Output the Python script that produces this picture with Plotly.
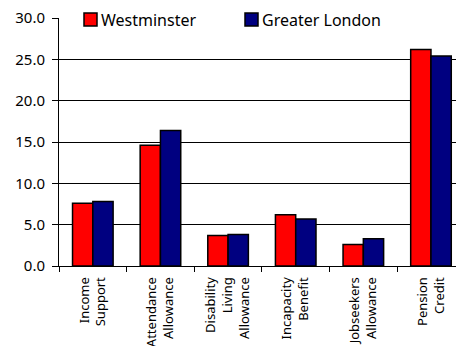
import plotly.graph_objects as go

categories = ["Income<br>Support", "Attendance<br>Allowance", "Disability<br>Living<br>Allowance",
              "Incapacity<br>Benefit", "Jobseekers<br>Allowance", "Pension<br>Credit"]
westminster = [7.6, 14.6, 3.7, 6.2, 2.6, 26.2]
greater_london = [7.8, 16.4, 3.8, 5.7, 3.3, 25.4]
series_names = ["Westminster", "Greater London"]
series_colors = ["#ff0000", "#000080"]

FONT = "Noto Sans"
W, H = 456, 346
L, R, T, B = 59, 0, 18, 80
PW, PH = W - L - R, H - T - B


def px_x(x):
    return (x - L) / PW


def px_y(y):
    return (H - B - y) / PH


fig = go.Figure()
for name, vals, col in zip(series_names, [westminster, greater_london], series_colors):
    fig.add_trace(go.Bar(x=categories, y=vals, name=name,
                         marker=dict(color=col, line=dict(color="black", width=1.5))))

# legend drawn by hand, it sits on top of the top gridline
shapes = [dict(type="rect", xref="paper", yref="paper", x0=px_x(60), x1=px_x(405),
               y0=px_y(46), y1=px_y(0), fillcolor="white", line=dict(width=0), layer="above")]
annotations = []
for i, (name, col) in enumerate(zip(series_names, series_colors)):
    x0 = 84 + i * 161
    shapes.append(dict(type="rect", xref="paper", yref="paper", x0=px_x(x0), x1=px_x(x0 + 13),
                       y0=px_y(26), y1=px_y(13), fillcolor=col,
                       line=dict(color="black", width=1.5), layer="above"))
    annotations.append(dict(text=name, xref="paper", yref="paper", x=px_x(x0 + 15), y=px_y(19.5),
                            xanchor="left", yanchor="middle", showarrow=False,
                            font=dict(size=16, family=FONT, color="black")))

fig.update_layout(
    width=W, height=H,
    margin=dict(l=L, r=R, t=T, b=B),
    paper_bgcolor="white", plot_bgcolor="white",
    font=dict(family=FONT, size=15, color="black"),
    barmode="group", bargap=0.4, bargroupgap=0,
    showlegend=False,
    shapes=shapes, annotations=annotations,
)
fig.update_xaxes(
    range=[-0.5, 5.37], showline=True, linecolor="black", linewidth=1,
    ticks="outside", tickson="boundaries", ticklen=5, tickcolor="black",
    tickangle=-90, tickfont=dict(size=13), ticklabelstandoff=5,
    showgrid=False, automargin=False,
)
fig.update_yaxes(
    range=[0, 30], dtick=5, tickformat=".1f", showline=True, linecolor="black", linewidth=1,
    showgrid=True, gridcolor="black", gridwidth=1, zeroline=False,
    ticks="outside", ticklen=6, tickcolor="black", ticklabelstandoff=4, automargin=False,
)

fig.write_html("out.html", config={"displayModeBar": False},
               post_script="document.body.style.margin='0';")
